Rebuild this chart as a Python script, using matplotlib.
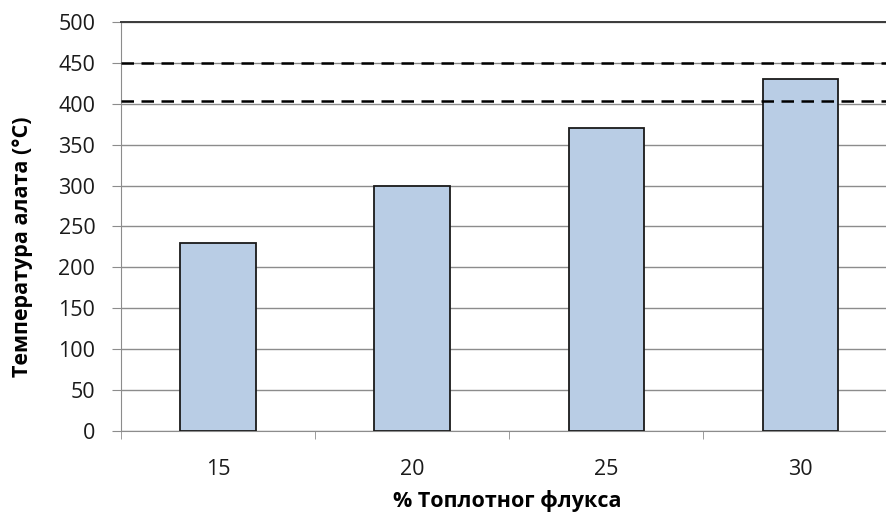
import numpy as np
import matplotlib
matplotlib.use("Agg")
import matplotlib.pyplot as plt

# data
categories = ["15", "20", "25", "30"]
temps = [230, 300, 370, 430]
limit_lines = [450, 403]

plt.rcParams['font.family'] = ['Open Sans', 'DejaVu Sans']

fig = plt.figure(figsize=(8.86, 5.18), dpi=100)
ax = fig.add_axes([0.1366, 0.168, 0.8634, 0.7896])

x = np.arange(len(categories))
ax.bar(x, temps, width=0.39, color='#B9CDE5', edgecolor='#1a1a1a', linewidth=1.3, zorder=3)

for v in limit_lines:
    ax.axhline(v, color='black', linestyle=(0, (5, 3)), linewidth=1.8, zorder=4)

ax.set_yticks(np.arange(0, 501, 50))
ax.set_xticks(x)
ax.set_xticklabels(categories)
ax.set_xticks(np.arange(-0.5, 4, 1), minor=True)
ax.set_ylim(0, 500)
ax.set_xlim(-0.5, 3.44)

ax.grid(axis='y', color='#8c8c8c', linewidth=1.0, zorder=0)
ax.spines['right'].set_visible(False)
ax.spines['top'].set_color('#3a3a3a')
ax.spines['top'].set_linewidth(1.4)
ax.spines['left'].set_color('#8c8c8c')
ax.spines['bottom'].set_color('#8c8c8c')

ax.tick_params(axis='y', length=6.5, color='#8c8c8c', labelsize=15.5, pad=12, labelcolor='#1a1a1a')
ax.tick_params(axis='x', which='major', length=0, labelsize=15.5, pad=20, labelcolor='#1a1a1a')
ax.tick_params(axis='x', which='minor', length=6, color='#8c8c8c')

fig.text(23 / 886, 1 - 247 / 518, 'Температура алата (°C)', fontsize=15.5, fontweight='bold',
         rotation=90, ha='center', va='center')
fig.text(0.573, 0.012, '% Топлотног флукса', fontsize=15.5, fontweight='bold', ha='center', va='bottom')

fig.savefig('out.png', dpi=100)
